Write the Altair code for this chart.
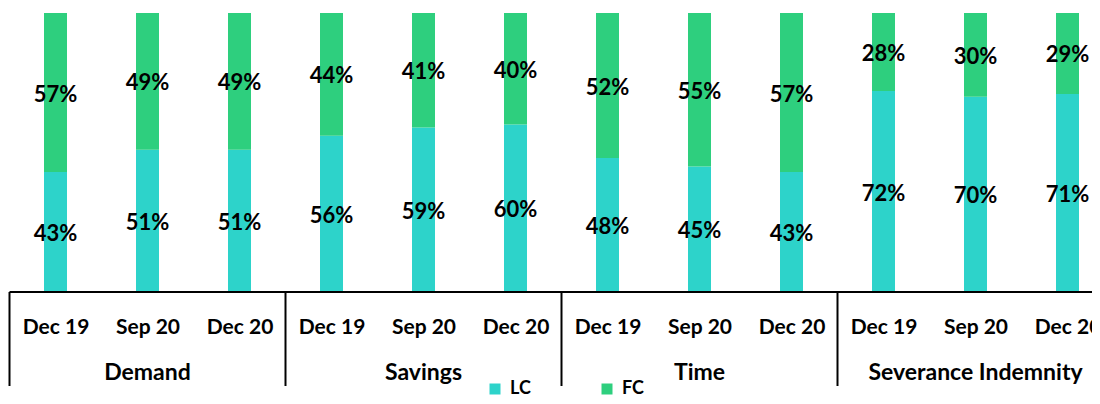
import altair as alt
import pandas as pd

groups = ["Demand", "Savings", "Time", "Severance Indemnity"]
periods = ["Dec 19", "Sep 20", "Dec 20"]
lc_values = [43, 51, 51, 56, 59, 60, 48, 45, 43, 72, 70, 71]
fc_values = [57, 49, 49, 44, 41, 40, 52, 55, 57, 28, 30, 29]
series = ["LC", "FC"]
colors = ["#2dd3ca", "#2ecf7e"]

rows = []
sep_rows = []
for gi, g in enumerate(groups):
    for pi, p in enumerate(periods):
        i = gi * 3 + pi
        rows.append(dict(idx=i, group=g, period=p, series="LC", ord=0, v=lc_values[i]))
        rows.append(dict(idx=i, group=g, period=p, series="FC", ord=1, v=fc_values[i]))
    sep_rows.append(dict(start=gi * 3 - 0.5, mid=gi * 3 + 1, group=g))
df = pd.DataFrame(rows)
sep_df = pd.DataFrame(sep_rows)
n = len(groups) * len(periods)

W = 1084
STEP = 92.0
FONT = "Lato"
period_js = "[" + ",".join(f"'{p}'" for p in periods) + "]"
X_LO = -47.5 / STEP
X_HI = X_LO + W / STEP
xscale = alt.Scale(domain=[X_LO, X_HI], nice=False, zero=False, padding=0)
yscale = alt.Scale(domain=[0, 1])
axis_df = pd.DataFrame([dict(start=-0.5, end=X_HI)])
xaxis = alt.Axis(
    title=None, values=list(range(n)),
    labelExpr=f"{period_js}[datum.value % {len(periods)}]", labelFont=FONT,
    labelFontWeight="bold", labelFontSize=21, labelColor="black",
    labelBaseline="alphabetic", labelPadding=41, ticks=False, tickSize=0,
    domain=False, labelOverlap=False, labelAngle=0, grid=False,
    labelBound=False, labelFlush=False,
)

base = alt.Chart(df).transform_stack(
    stack="v", groupby=["idx"], as_=["y0", "y1"], offset="normalize",
    sort=[alt.SortField("ord")],
)

bars = base.mark_bar(size=23).encode(
    x=alt.X("idx:Q", scale=xscale, axis=xaxis),
    y=alt.Y("y0:Q", scale=yscale, axis=None),
    y2="y1:Q",
    color=alt.Color(
        "series:N", scale=alt.Scale(domain=series, range=colors),
        legend=alt.Legend(
            title=None, orient="none", legendX=478, legendY=367,
            direction="horizontal", symbolType="square", symbolSize=121,
            symbolStrokeWidth=0, labelFont=FONT, labelFontWeight="bold",
            labelFontSize=18, labelOffset=6, columnPadding=67, padding=0,
            labelColor="black",
        ),
    ),
)

text = base.transform_calculate(
    mid="(datum.y0 + datum.y1) / 2", label="datum.v + '%'"
).mark_text(font=FONT, fontWeight="bold", fontSize=22, color="black", dy=2).encode(
    x=alt.X("idx:Q", scale=xscale, axis=xaxis),
    y=alt.Y("mid:Q", scale=yscale, axis=None),
    text="label:N",
)

axis_line = alt.Chart(axis_df).mark_rule(color="black", strokeWidth=2).encode(
    x=alt.X("start:Q", scale=xscale, axis=xaxis),
    x2="end:Q",
    y=alt.value(279),
)

seps = alt.Chart(sep_df).mark_rule(color="black", strokeWidth=2).encode(
    x=alt.X("start:Q", scale=xscale, axis=xaxis),
    y=alt.value(279),
    y2=alt.value(373),
)

glabels = alt.Chart(sep_df).mark_text(
    font=FONT, fontWeight="bold", fontSize=23, color="black", baseline="alphabetic"
).encode(
    x=alt.X("mid:Q", scale=xscale, axis=xaxis),
    y=alt.value(367),
    text="group:N",
)

chart = alt.layer(bars, text, axis_line, seps, glabels).properties(
    width=W, height=279,
    padding={"left": 0, "top": 5, "right": 0, "bottom": 104},
    autosize="none",
).configure_view(stroke=None)

chart.save("out.html", embed_options={"renderer": "svg", "actions": False})
